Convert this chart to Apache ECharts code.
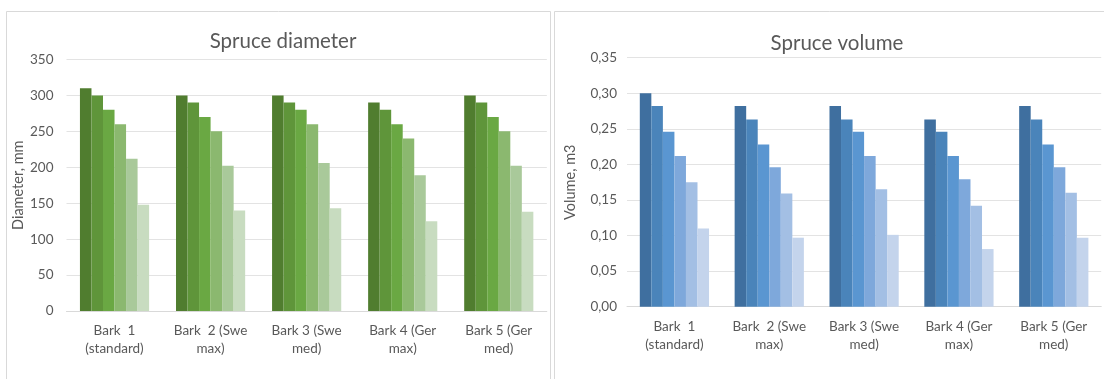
<!DOCTYPE html>
<html>
<head>
<meta charset="utf-8">
<script src="https://cdn.jsdelivr.net/npm/echarts@6/dist/echarts.min.js"></script>
<style>
  html, body { margin: 0; padding: 0; background: #fff; }
  #chart { width: 1104px; height: 379px; }
</style>
</head>
<body>
<div id="chart"></div>
<script>
// ---- data ----
const categories = ['Bark  1\n(standard)', 'Bark  2 (Swe\nmax)', 'Bark 3 (Swe\nmed)', 'Bark 4 (Ger\nmax)', 'Bark 5 (Ger\nmed)'];
const seriesNames = ['Series 1', 'Series 2', 'Series 3', 'Series 4', 'Series 5', 'Series 6'];

// Spruce diameter, mm (one array per series, across the 5 categories)
const diam1 = [310, 300, 300, 290, 300];
const diam2 = [300, 290, 290, 280, 290];
const diam3 = [280, 270, 280, 260, 270];
const diam4 = [260, 250, 260, 240, 250];
const diam5 = [212, 202, 206, 189, 202];
const diam6 = [148, 140, 143, 125, 138];

// Spruce volume, m3
const vol1 = [0.300, 0.282, 0.282, 0.263, 0.282];
const vol2 = [0.282, 0.263, 0.263, 0.246, 0.263];
const vol3 = [0.246, 0.228, 0.246, 0.212, 0.228];
const vol4 = [0.212, 0.196, 0.212, 0.179, 0.196];
const vol5 = [0.175, 0.159, 0.165, 0.142, 0.160];
const vol6 = [0.110, 0.097, 0.101, 0.081, 0.097];

// tick labels
const diamTicks = ['0', '50', '100', '150', '200', '250', '300', '350'];
const volTicks = ['0,00', '0,05', '0,10', '0,15', '0,20', '0,25', '0,30', '0,35'];

// ---- styles ----
const greens = ['#507d2f', '#5f953a', '#6aa843', '#8bb86f', '#a9c99a', '#c8dcc0'];
const blues = ['#3f6f9f', '#4a84ba', '#5a96d1', '#7ea8db', '#a3bfe4', '#c4d4ec'];
const FONT = 'Lato';
const TXT = '#595959';

const diamData = [diam1, diam2, diam3, diam4, diam5, diam6];
const volData = [vol1, vol2, vol3, vol4, vol5, vol6];

function xAxis(gridIndex) {
  return {
    type: 'category', gridIndex, data: categories,
    axisLine: { show: true, lineStyle: { color: '#d9d9d9', width: 1 } },
    axisTick: { show: false },
    axisLabel: { color: TXT, fontFamily: FONT, fontSize: 13.5, lineHeight: 18, margin: 11, interval: 0 }
  };
}

const series = [];
diamData.forEach((d, i) => series.push({
  name: seriesNames[i], type: 'bar', xAxisIndex: 0, yAxisIndex: 0, data: d,
  barGap: '0%', barCategoryGap: '28%', itemStyle: { color: greens[i] }, silent: true
}));
volData.forEach((d, i) => series.push({
  name: seriesNames[i], type: 'bar', xAxisIndex: 1, yAxisIndex: 1, data: d,
  barGap: '0%', barCategoryGap: '27%', itemStyle: { color: blues[i] }, silent: true
}));

const option = {
  animation: false,
  backgroundColor: '#fff',
  title: [
    { text: 'Spruce diameter', left: 278, top: 26, textAlign: 'center',
      textStyle: { color: TXT, fontFamily: FONT, fontSize: 20.5, fontWeight: 'normal' } },
    { text: 'Spruce volume', left: 832, top: 28, textAlign: 'center',
      textStyle: { color: TXT, fontFamily: FONT, fontSize: 20.5, fontWeight: 'normal' } }
  ],
  graphic: [
    { type: 'rect', shape: { x: 6.5, y: 11.5, width: 544, height: 420 },
      style: { fill: 'none', stroke: '#d9d9d9', lineWidth: 1 }, silent: true },
    { type: 'rect', shape: { x: 554.5, y: 11.5, width: 600, height: 420 },
      style: { fill: 'none', stroke: '#d9d9d9', lineWidth: 1 }, silent: true }
  ],
  grid: [
    { left: 66.5, right: 557.2, top: 59.5, bottom: 68 },
    { left: 627, right: 2.8, top: 57.7, bottom: 72.3 }
  ],
  xAxis: [xAxis(0), xAxis(1)],
  yAxis: [
    { type: 'value', gridIndex: 0, min: 0, max: 350, interval: 50,
      name: 'Diameter, mm', nameLocation: 'middle', nameRotate: 90, nameGap: 40,
      nameTextStyle: { color: TXT, fontFamily: FONT, fontSize: 14.5 },
      axisLine: { show: false }, axisTick: { show: false },
      splitLine: { lineStyle: { color: '#e3e3e3', width: 1 } },
      axisLabel: { color: TXT, fontFamily: FONT, fontSize: 13.5, margin: 13,
        formatter: (v) => diamTicks[Math.round(v / 50)] } },
    { type: 'value', gridIndex: 1, min: 0, max: 0.35, interval: 0.05,
      name: 'Volume, m3', nameLocation: 'middle', nameRotate: 90, nameGap: 49,
      nameTextStyle: { color: TXT, fontFamily: FONT, fontSize: 14.5 },
      axisLine: { show: false }, axisTick: { show: false },
      splitLine: { lineStyle: { color: '#e3e3e3', width: 1 } },
      axisLabel: { color: TXT, fontFamily: FONT, fontSize: 13.5, margin: 10,
        formatter: (v) => volTicks[Math.round(v / 0.05)] } }
  ],
  series
};

const chart = echarts.init(document.getElementById('chart'), null, { renderer: 'canvas' });
chart.setOption(option);
</script>
</body>
</html>
